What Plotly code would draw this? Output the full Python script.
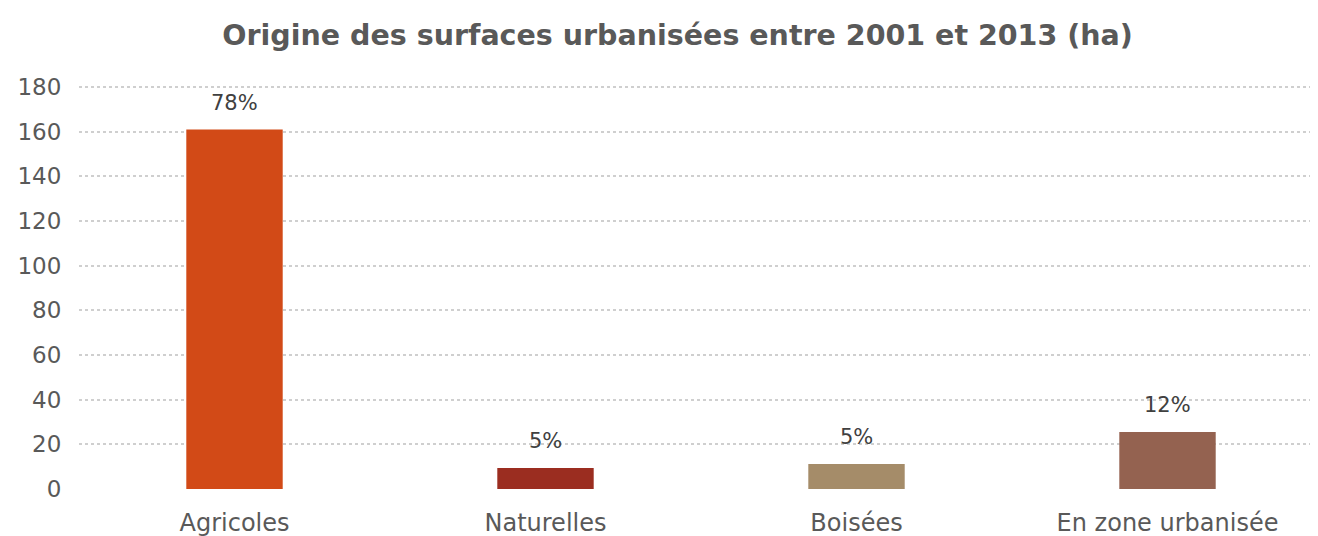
import plotly.graph_objects as go

categories = ["Agricoles", "Naturelles", "Boisées", "En zone urbanisée"]
values = [161, 9.4, 11.2, 25.5]
pct_labels = ["78%", "5%", "5%", "12%"]
colors = ["#D24A17", "#9B2D20", "#A58C69", "#946250"]
y_ticks = [0, 20, 40, 60, 80, 100, 120, 140, 160, 180]

FONT = "DejaVu Sans, sans-serif"

fig = go.Figure()
fig.add_trace(go.Bar(
    x=categories, y=values, marker=dict(color=colors, line=dict(width=0)),
    width=0.31, hoverinfo="skip"
))
for c, v, t in zip(categories, values, pct_labels):
    fig.add_annotation(x=c, y=v, text=t, showarrow=False, yanchor="bottom",
                       yshift=13, font=dict(family=FONT, size=21, color="#404040"))

fig.update_layout(
    width=1318, height=536,
    margin=dict(l=71, r=3, t=78, b=55),
    paper_bgcolor="white", plot_bgcolor="white",
    showlegend=False,
    title=dict(text="<b>Origine des surfaces urbanisées entre 2001 et 2013 (ha)</b>",
               x=0.508, xanchor="center", y=0.95, yanchor="middle",
               font=dict(family=FONT, size=28.5, color="#595959")),
    xaxis=dict(range=[-0.5, 3.5], showgrid=False, showline=False, zeroline=False,
               automargin=False,
               ticks="outside", ticklen=12, tickcolor="rgba(0,0,0,0)",
               tickfont=dict(family=FONT, size=24, color="#595959")),
    yaxis=dict(range=[0, 180.5], tickvals=y_ticks, showgrid=True, gridcolor="#CFCFCF",
               griddash="dot", gridwidth=1.5, zeroline=False, showline=False,
               automargin=False,
               ticks="outside", ticklen=12, tickcolor="rgba(0,0,0,0)",
               tickfont=dict(family=FONT, size=23, color="#595959")),
)
fig.write_html("out.html")
